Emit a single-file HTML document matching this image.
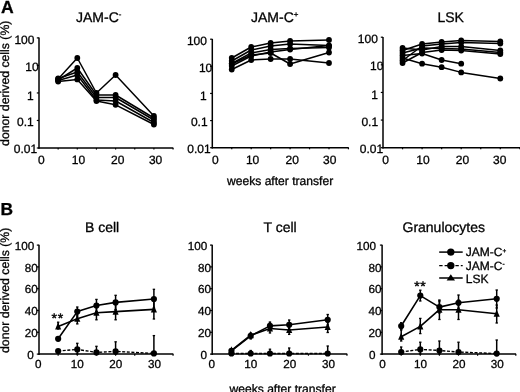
<!DOCTYPE html>
<html><head><meta charset="utf-8"><style>
html,body{margin:0;padding:0;background:#fff;}
body{width:520px;height:392px;overflow:hidden;}
svg{display:block;font-family:"Liberation Sans", sans-serif;-webkit-font-smoothing:antialiased;text-rendering:geometricPrecision;will-change:transform;}
text{fill:#000;stroke:#000;stroke-width:0.3px;}
</style></head><body>
<svg width="520" height="392" viewBox="0 0 520 392">
<line x1="39.00" y1="37.60" x2="39.00" y2="148.80" stroke="#000" stroke-width="1.5"/>
<line x1="38.40" y1="148.00" x2="173.35" y2="148.00" stroke="#000" stroke-width="1.5"/>
<line x1="36.80" y1="37.90" x2="39.00" y2="37.90" stroke="#000" stroke-width="1.2"/>
<text x="34.46" y="43.50" font-size="12" text-anchor="end" font-weight="normal" >100</text>
<line x1="36.80" y1="65.42" x2="39.00" y2="65.42" stroke="#000" stroke-width="1.2"/>
<text x="38.67" y="70.83" font-size="12" text-anchor="end" font-weight="normal" >10</text>
<line x1="36.80" y1="92.95" x2="39.00" y2="92.95" stroke="#000" stroke-width="1.2"/>
<text x="33.78" y="99.95" font-size="12" text-anchor="end" font-weight="normal" >1</text>
<line x1="36.80" y1="120.47" x2="39.00" y2="120.47" stroke="#000" stroke-width="1.2"/>
<text x="33.68" y="126.38" font-size="12" text-anchor="end" font-weight="normal" >0.1</text>
<line x1="36.80" y1="148.00" x2="39.00" y2="148.00" stroke="#000" stroke-width="1.2"/>
<text x="37.08" y="153.40" font-size="12" text-anchor="end" font-weight="normal" >0.01</text>
<line x1="58.15" y1="148.00" x2="58.15" y2="149.60" stroke="#000" stroke-width="1.2"/>
<line x1="77.30" y1="148.00" x2="77.30" y2="149.60" stroke="#000" stroke-width="1.2"/>
<line x1="96.45" y1="148.00" x2="96.45" y2="149.60" stroke="#000" stroke-width="1.2"/>
<line x1="115.60" y1="148.00" x2="115.60" y2="149.60" stroke="#000" stroke-width="1.2"/>
<line x1="134.75" y1="148.00" x2="134.75" y2="149.60" stroke="#000" stroke-width="1.2"/>
<line x1="153.90" y1="148.00" x2="153.90" y2="149.60" stroke="#000" stroke-width="1.2"/>
<line x1="173.05" y1="148.00" x2="173.05" y2="149.60" stroke="#000" stroke-width="1.2"/>
<text x="41.25" y="163.50" font-size="12" text-anchor="middle" font-weight="normal" >0</text>
<text x="78.45" y="163.50" font-size="12" text-anchor="middle" font-weight="normal" >10</text>
<text x="117.75" y="163.50" font-size="12" text-anchor="middle" font-weight="normal" >20</text>
<text x="155.60" y="163.50" font-size="12" text-anchor="middle" font-weight="normal" >30</text>
<text x="76.00" y="22.20" font-size="14" text-anchor="start" font-weight="normal" >JAM-C<tspan font-size="8" dy="-5.5">-</tspan></text>
<polyline points="58.15,79.00 77.30,58.00 96.45,93.00 115.60,75.00 153.90,116.00" fill="none" stroke="#000" stroke-width="1.5" stroke-linejoin="round"/>
<polyline points="58.15,80.00 77.30,68.00 96.45,95.00 115.60,95.00 153.90,118.00" fill="none" stroke="#000" stroke-width="1.5" stroke-linejoin="round"/>
<polyline points="58.15,78.50 77.30,72.00 96.45,97.50 115.60,97.50 153.90,120.00" fill="none" stroke="#000" stroke-width="1.5" stroke-linejoin="round"/>
<polyline points="58.15,80.50 77.30,75.00 96.45,100.00 115.60,101.00 153.90,122.50" fill="none" stroke="#000" stroke-width="1.5" stroke-linejoin="round"/>
<polyline points="58.15,81.50 77.30,79.40 96.45,101.00 115.60,104.80 153.90,124.50" fill="none" stroke="#000" stroke-width="1.5" stroke-linejoin="round"/>
<circle cx="58.15" cy="79.00" r="2.9" fill="#000"/>
<circle cx="77.30" cy="58.00" r="2.9" fill="#000"/>
<circle cx="96.45" cy="93.00" r="2.9" fill="#000"/>
<circle cx="115.60" cy="75.00" r="2.9" fill="#000"/>
<circle cx="153.90" cy="116.00" r="2.9" fill="#000"/>
<circle cx="58.15" cy="80.00" r="2.9" fill="#000"/>
<circle cx="77.30" cy="68.00" r="2.9" fill="#000"/>
<circle cx="96.45" cy="95.00" r="2.9" fill="#000"/>
<circle cx="115.60" cy="95.00" r="2.9" fill="#000"/>
<circle cx="153.90" cy="118.00" r="2.9" fill="#000"/>
<circle cx="58.15" cy="78.50" r="2.9" fill="#000"/>
<circle cx="77.30" cy="72.00" r="2.9" fill="#000"/>
<circle cx="96.45" cy="97.50" r="2.9" fill="#000"/>
<circle cx="115.60" cy="97.50" r="2.9" fill="#000"/>
<circle cx="153.90" cy="120.00" r="2.9" fill="#000"/>
<circle cx="58.15" cy="80.50" r="2.9" fill="#000"/>
<circle cx="77.30" cy="75.00" r="2.9" fill="#000"/>
<circle cx="96.45" cy="100.00" r="2.9" fill="#000"/>
<circle cx="115.60" cy="101.00" r="2.9" fill="#000"/>
<circle cx="153.90" cy="122.50" r="2.9" fill="#000"/>
<circle cx="58.15" cy="81.50" r="2.9" fill="#000"/>
<circle cx="77.30" cy="79.40" r="2.9" fill="#000"/>
<circle cx="96.45" cy="101.00" r="2.9" fill="#000"/>
<circle cx="115.60" cy="104.80" r="2.9" fill="#000"/>
<circle cx="153.90" cy="124.50" r="2.9" fill="#000"/>
<line x1="212.30" y1="38.90" x2="212.30" y2="148.50" stroke="#000" stroke-width="1.5"/>
<line x1="211.70" y1="147.70" x2="348.75" y2="147.70" stroke="#000" stroke-width="1.5"/>
<line x1="210.10" y1="39.20" x2="212.30" y2="39.20" stroke="#000" stroke-width="1.2"/>
<text x="206.96" y="44.80" font-size="12" text-anchor="end" font-weight="normal" >100</text>
<line x1="210.10" y1="66.33" x2="212.30" y2="66.33" stroke="#000" stroke-width="1.2"/>
<text x="212.27" y="71.73" font-size="12" text-anchor="end" font-weight="normal" >10</text>
<line x1="210.10" y1="93.45" x2="212.30" y2="93.45" stroke="#000" stroke-width="1.2"/>
<text x="206.58" y="100.45" font-size="12" text-anchor="end" font-weight="normal" >1</text>
<line x1="210.10" y1="120.57" x2="212.30" y2="120.57" stroke="#000" stroke-width="1.2"/>
<text x="207.58" y="126.47" font-size="12" text-anchor="end" font-weight="normal" >0.1</text>
<line x1="210.10" y1="147.70" x2="212.30" y2="147.70" stroke="#000" stroke-width="1.2"/>
<text x="210.58" y="153.10" font-size="12" text-anchor="end" font-weight="normal" >0.01</text>
<line x1="231.75" y1="147.70" x2="231.75" y2="149.30" stroke="#000" stroke-width="1.2"/>
<line x1="251.20" y1="147.70" x2="251.20" y2="149.30" stroke="#000" stroke-width="1.2"/>
<line x1="270.65" y1="147.70" x2="270.65" y2="149.30" stroke="#000" stroke-width="1.2"/>
<line x1="290.10" y1="147.70" x2="290.10" y2="149.30" stroke="#000" stroke-width="1.2"/>
<line x1="309.55" y1="147.70" x2="309.55" y2="149.30" stroke="#000" stroke-width="1.2"/>
<line x1="329.00" y1="147.70" x2="329.00" y2="149.30" stroke="#000" stroke-width="1.2"/>
<line x1="348.45" y1="147.70" x2="348.45" y2="149.30" stroke="#000" stroke-width="1.2"/>
<text x="215.25" y="163.50" font-size="12" text-anchor="middle" font-weight="normal" >0</text>
<text x="252.60" y="163.50" font-size="12" text-anchor="middle" font-weight="normal" >10</text>
<text x="292.20" y="163.50" font-size="12" text-anchor="middle" font-weight="normal" >20</text>
<text x="329.80" y="163.50" font-size="12" text-anchor="middle" font-weight="normal" >30</text>
<text x="251.00" y="22.20" font-size="14" text-anchor="start" font-weight="normal" >JAM-C<tspan font-size="8" dy="-5.5">+</tspan></text>
<polyline points="231.75,58.00 251.20,47.00 270.65,43.00 290.10,41.00 329.00,40.00" fill="none" stroke="#000" stroke-width="1.5" stroke-linejoin="round"/>
<polyline points="231.75,61.00 251.20,50.00 270.65,46.00 290.10,44.00 329.00,45.60" fill="none" stroke="#000" stroke-width="1.5" stroke-linejoin="round"/>
<polyline points="231.75,63.50 251.20,53.00 270.65,49.50 290.10,48.50 329.00,47.50" fill="none" stroke="#000" stroke-width="1.5" stroke-linejoin="round"/>
<polyline points="231.75,66.00 251.20,56.00 270.65,52.00 290.10,49.50 329.00,45.60" fill="none" stroke="#000" stroke-width="1.5" stroke-linejoin="round"/>
<polyline points="231.75,64.00 251.20,55.00 270.65,53.00 290.10,64.00 329.00,52.50" fill="none" stroke="#000" stroke-width="1.5" stroke-linejoin="round"/>
<polyline points="231.75,69.50 251.20,60.00 270.65,59.00 290.10,59.00 329.00,63.00" fill="none" stroke="#000" stroke-width="1.5" stroke-linejoin="round"/>
<circle cx="231.75" cy="58.00" r="2.9" fill="#000"/>
<circle cx="251.20" cy="47.00" r="2.9" fill="#000"/>
<circle cx="270.65" cy="43.00" r="2.9" fill="#000"/>
<circle cx="290.10" cy="41.00" r="2.9" fill="#000"/>
<circle cx="329.00" cy="40.00" r="2.9" fill="#000"/>
<circle cx="231.75" cy="61.00" r="2.9" fill="#000"/>
<circle cx="251.20" cy="50.00" r="2.9" fill="#000"/>
<circle cx="270.65" cy="46.00" r="2.9" fill="#000"/>
<circle cx="290.10" cy="44.00" r="2.9" fill="#000"/>
<circle cx="329.00" cy="45.60" r="2.9" fill="#000"/>
<circle cx="231.75" cy="63.50" r="2.9" fill="#000"/>
<circle cx="251.20" cy="53.00" r="2.9" fill="#000"/>
<circle cx="270.65" cy="49.50" r="2.9" fill="#000"/>
<circle cx="290.10" cy="48.50" r="2.9" fill="#000"/>
<circle cx="329.00" cy="47.50" r="2.9" fill="#000"/>
<circle cx="231.75" cy="66.00" r="2.9" fill="#000"/>
<circle cx="251.20" cy="56.00" r="2.9" fill="#000"/>
<circle cx="270.65" cy="52.00" r="2.9" fill="#000"/>
<circle cx="290.10" cy="49.50" r="2.9" fill="#000"/>
<circle cx="329.00" cy="45.60" r="2.9" fill="#000"/>
<circle cx="231.75" cy="64.00" r="2.9" fill="#000"/>
<circle cx="251.20" cy="55.00" r="2.9" fill="#000"/>
<circle cx="270.65" cy="53.00" r="2.9" fill="#000"/>
<circle cx="290.10" cy="64.00" r="2.9" fill="#000"/>
<circle cx="329.00" cy="52.50" r="2.9" fill="#000"/>
<circle cx="231.75" cy="69.50" r="2.9" fill="#000"/>
<circle cx="251.20" cy="60.00" r="2.9" fill="#000"/>
<circle cx="270.65" cy="59.00" r="2.9" fill="#000"/>
<circle cx="290.10" cy="59.00" r="2.9" fill="#000"/>
<circle cx="329.00" cy="63.00" r="2.9" fill="#000"/>
<line x1="383.00" y1="36.90" x2="383.00" y2="148.50" stroke="#000" stroke-width="1.5"/>
<line x1="382.40" y1="147.70" x2="520.15" y2="147.70" stroke="#000" stroke-width="1.5"/>
<line x1="380.80" y1="37.20" x2="383.00" y2="37.20" stroke="#000" stroke-width="1.2"/>
<text x="377.86" y="42.80" font-size="12" text-anchor="end" font-weight="normal" >100</text>
<line x1="380.80" y1="64.83" x2="383.00" y2="64.83" stroke="#000" stroke-width="1.2"/>
<text x="383.47" y="70.23" font-size="12" text-anchor="end" font-weight="normal" >10</text>
<line x1="380.80" y1="92.45" x2="383.00" y2="92.45" stroke="#000" stroke-width="1.2"/>
<text x="377.88" y="99.45" font-size="12" text-anchor="end" font-weight="normal" >1</text>
<line x1="380.80" y1="120.07" x2="383.00" y2="120.07" stroke="#000" stroke-width="1.2"/>
<text x="378.08" y="125.97" font-size="12" text-anchor="end" font-weight="normal" >0.1</text>
<line x1="380.80" y1="147.70" x2="383.00" y2="147.70" stroke="#000" stroke-width="1.2"/>
<text x="383.08" y="153.10" font-size="12" text-anchor="end" font-weight="normal" >0.01</text>
<line x1="402.55" y1="147.70" x2="402.55" y2="149.30" stroke="#000" stroke-width="1.2"/>
<line x1="422.10" y1="147.70" x2="422.10" y2="149.30" stroke="#000" stroke-width="1.2"/>
<line x1="441.65" y1="147.70" x2="441.65" y2="149.30" stroke="#000" stroke-width="1.2"/>
<line x1="461.20" y1="147.70" x2="461.20" y2="149.30" stroke="#000" stroke-width="1.2"/>
<line x1="480.75" y1="147.70" x2="480.75" y2="149.30" stroke="#000" stroke-width="1.2"/>
<line x1="500.30" y1="147.70" x2="500.30" y2="149.30" stroke="#000" stroke-width="1.2"/>
<line x1="519.85" y1="147.70" x2="519.85" y2="149.30" stroke="#000" stroke-width="1.2"/>
<text x="385.60" y="163.50" font-size="12" text-anchor="middle" font-weight="normal" >0</text>
<text x="423.00" y="163.50" font-size="12" text-anchor="middle" font-weight="normal" >10</text>
<text x="462.50" y="163.50" font-size="12" text-anchor="middle" font-weight="normal" >20</text>
<text x="499.70" y="163.50" font-size="12" text-anchor="middle" font-weight="normal" >30</text>
<text x="437.50" y="22.20" font-size="14" text-anchor="start" font-weight="normal" >LSK</text>
<polyline points="402.55,50.50 422.10,44.00 441.65,42.00 461.20,40.50 500.30,41.50" fill="none" stroke="#000" stroke-width="1.5" stroke-linejoin="round"/>
<polyline points="402.55,60.50 422.10,46.00 441.65,44.00 461.20,42.50 500.30,43.50" fill="none" stroke="#000" stroke-width="1.5" stroke-linejoin="round"/>
<polyline points="402.55,48.00 422.10,50.00 441.65,46.50 461.20,46.50 500.30,50.50" fill="none" stroke="#000" stroke-width="1.5" stroke-linejoin="round"/>
<polyline points="402.55,53.00 422.10,48.00 441.65,48.50 461.20,49.00 500.30,52.50" fill="none" stroke="#000" stroke-width="1.5" stroke-linejoin="round"/>
<polyline points="402.55,63.00 422.10,52.50 441.65,50.00 461.20,50.50 500.30,54.00" fill="none" stroke="#000" stroke-width="1.5" stroke-linejoin="round"/>
<polyline points="402.55,55.50 422.10,53.50 441.65,60.00 461.20,63.70" fill="none" stroke="#000" stroke-width="1.5" stroke-linejoin="round"/>
<polyline points="402.55,58.00 422.10,63.70 441.65,67.20 461.20,72.40 500.30,78.50" fill="none" stroke="#000" stroke-width="1.5" stroke-linejoin="round"/>
<circle cx="402.55" cy="50.50" r="2.9" fill="#000"/>
<circle cx="422.10" cy="44.00" r="2.9" fill="#000"/>
<circle cx="441.65" cy="42.00" r="2.9" fill="#000"/>
<circle cx="461.20" cy="40.50" r="2.9" fill="#000"/>
<circle cx="500.30" cy="41.50" r="2.9" fill="#000"/>
<circle cx="402.55" cy="60.50" r="2.9" fill="#000"/>
<circle cx="422.10" cy="46.00" r="2.9" fill="#000"/>
<circle cx="441.65" cy="44.00" r="2.9" fill="#000"/>
<circle cx="461.20" cy="42.50" r="2.9" fill="#000"/>
<circle cx="500.30" cy="43.50" r="2.9" fill="#000"/>
<circle cx="402.55" cy="48.00" r="2.9" fill="#000"/>
<circle cx="422.10" cy="50.00" r="2.9" fill="#000"/>
<circle cx="441.65" cy="46.50" r="2.9" fill="#000"/>
<circle cx="461.20" cy="46.50" r="2.9" fill="#000"/>
<circle cx="500.30" cy="50.50" r="2.9" fill="#000"/>
<circle cx="402.55" cy="53.00" r="2.9" fill="#000"/>
<circle cx="422.10" cy="48.00" r="2.9" fill="#000"/>
<circle cx="441.65" cy="48.50" r="2.9" fill="#000"/>
<circle cx="461.20" cy="49.00" r="2.9" fill="#000"/>
<circle cx="500.30" cy="52.50" r="2.9" fill="#000"/>
<circle cx="402.55" cy="63.00" r="2.9" fill="#000"/>
<circle cx="422.10" cy="52.50" r="2.9" fill="#000"/>
<circle cx="441.65" cy="50.00" r="2.9" fill="#000"/>
<circle cx="461.20" cy="50.50" r="2.9" fill="#000"/>
<circle cx="500.30" cy="54.00" r="2.9" fill="#000"/>
<circle cx="402.55" cy="55.50" r="2.9" fill="#000"/>
<circle cx="422.10" cy="53.50" r="2.9" fill="#000"/>
<circle cx="441.65" cy="60.00" r="2.9" fill="#000"/>
<circle cx="461.20" cy="63.70" r="2.9" fill="#000"/>
<circle cx="402.55" cy="58.00" r="2.9" fill="#000"/>
<circle cx="422.10" cy="63.70" r="2.9" fill="#000"/>
<circle cx="441.65" cy="67.20" r="2.9" fill="#000"/>
<circle cx="461.20" cy="72.40" r="2.9" fill="#000"/>
<circle cx="500.30" cy="78.50" r="2.9" fill="#000"/>
<text x="0.90" y="12.50" font-size="17.6" text-anchor="start" font-weight="bold" >A</text>
<text x="227.00" y="185.00" font-size="12.1" text-anchor="start" font-weight="normal" >weeks after transfer</text>
<text transform="translate(8.8,145.9) rotate(-90)" font-size="12.25">donor derived cells (%)</text>
<line x1="39.00" y1="244.80" x2="39.00" y2="354.90" stroke="#000" stroke-width="1.5"/>
<line x1="38.40" y1="354.10" x2="173.35" y2="354.10" stroke="#000" stroke-width="1.5"/>
<line x1="36.80" y1="354.10" x2="39.00" y2="354.10" stroke="#000" stroke-width="1.2"/>
<text x="33.85" y="358.80" font-size="11.7" text-anchor="end" font-weight="normal" >0</text>
<line x1="36.80" y1="332.30" x2="39.00" y2="332.30" stroke="#000" stroke-width="1.2"/>
<text x="37.66" y="337.00" font-size="11.7" text-anchor="end" font-weight="normal" >20</text>
<line x1="36.80" y1="310.50" x2="39.00" y2="310.50" stroke="#000" stroke-width="1.2"/>
<text x="37.66" y="315.20" font-size="11.7" text-anchor="end" font-weight="normal" >40</text>
<line x1="36.80" y1="288.70" x2="39.00" y2="288.70" stroke="#000" stroke-width="1.2"/>
<text x="37.66" y="293.40" font-size="11.7" text-anchor="end" font-weight="normal" >60</text>
<line x1="36.80" y1="266.90" x2="39.00" y2="266.90" stroke="#000" stroke-width="1.2"/>
<text x="37.66" y="271.60" font-size="11.7" text-anchor="end" font-weight="normal" >80</text>
<line x1="36.80" y1="245.10" x2="39.00" y2="245.10" stroke="#000" stroke-width="1.2"/>
<text x="34.15" y="249.80" font-size="11.7" text-anchor="end" font-weight="normal" >100</text>
<line x1="58.15" y1="354.10" x2="58.15" y2="355.70" stroke="#000" stroke-width="1.2"/>
<line x1="77.30" y1="354.10" x2="77.30" y2="355.70" stroke="#000" stroke-width="1.2"/>
<line x1="96.45" y1="354.10" x2="96.45" y2="355.70" stroke="#000" stroke-width="1.2"/>
<line x1="115.60" y1="354.10" x2="115.60" y2="355.70" stroke="#000" stroke-width="1.2"/>
<line x1="134.75" y1="354.10" x2="134.75" y2="355.70" stroke="#000" stroke-width="1.2"/>
<line x1="153.90" y1="354.10" x2="153.90" y2="355.70" stroke="#000" stroke-width="1.2"/>
<line x1="173.05" y1="354.10" x2="173.05" y2="355.70" stroke="#000" stroke-width="1.2"/>
<text x="38.35" y="368.30" font-size="11.7" text-anchor="middle" font-weight="normal" >0</text>
<text x="77.30" y="368.30" font-size="11.7" text-anchor="middle" font-weight="normal" >10</text>
<text x="115.80" y="368.30" font-size="11.7" text-anchor="middle" font-weight="normal" >20</text>
<text x="154.45" y="368.30" font-size="11.7" text-anchor="middle" font-weight="normal" >30</text>
<text x="85.00" y="231.60" font-size="14" text-anchor="start" font-weight="normal" >B cell</text>
<line x1="77.30" y1="307.00" x2="77.30" y2="316.00" stroke="#000" stroke-width="1.5"/>
<line x1="76.10" y1="307.00" x2="78.50" y2="307.00" stroke="#000" stroke-width="1.3"/>
<line x1="76.10" y1="316.00" x2="78.50" y2="316.00" stroke="#000" stroke-width="1.3"/>
<line x1="96.45" y1="299.40" x2="96.45" y2="311.60" stroke="#000" stroke-width="1.5"/>
<line x1="95.25" y1="299.40" x2="97.65" y2="299.40" stroke="#000" stroke-width="1.3"/>
<line x1="95.25" y1="311.60" x2="97.65" y2="311.60" stroke="#000" stroke-width="1.3"/>
<line x1="115.60" y1="295.30" x2="115.60" y2="309.50" stroke="#000" stroke-width="1.5"/>
<line x1="114.40" y1="295.30" x2="116.80" y2="295.30" stroke="#000" stroke-width="1.3"/>
<line x1="114.40" y1="309.50" x2="116.80" y2="309.50" stroke="#000" stroke-width="1.3"/>
<line x1="153.90" y1="289.30" x2="153.90" y2="307.80" stroke="#000" stroke-width="1.5"/>
<line x1="152.70" y1="289.30" x2="155.10" y2="289.30" stroke="#000" stroke-width="1.3"/>
<line x1="152.70" y1="307.80" x2="155.10" y2="307.80" stroke="#000" stroke-width="1.3"/>
<line x1="77.30" y1="343.30" x2="77.30" y2="354.00" stroke="#000" stroke-width="1.5"/>
<line x1="76.10" y1="343.30" x2="78.50" y2="343.30" stroke="#000" stroke-width="1.3"/>
<line x1="76.10" y1="354.00" x2="78.50" y2="354.00" stroke="#000" stroke-width="1.3"/>
<line x1="96.45" y1="346.30" x2="96.45" y2="354.00" stroke="#000" stroke-width="1.5"/>
<line x1="95.25" y1="346.30" x2="97.65" y2="346.30" stroke="#000" stroke-width="1.3"/>
<line x1="95.25" y1="354.00" x2="97.65" y2="354.00" stroke="#000" stroke-width="1.3"/>
<line x1="115.60" y1="341.80" x2="115.60" y2="354.00" stroke="#000" stroke-width="1.5"/>
<line x1="114.40" y1="341.80" x2="116.80" y2="341.80" stroke="#000" stroke-width="1.3"/>
<line x1="114.40" y1="354.00" x2="116.80" y2="354.00" stroke="#000" stroke-width="1.3"/>
<line x1="153.90" y1="335.60" x2="153.90" y2="354.00" stroke="#000" stroke-width="1.5"/>
<line x1="152.70" y1="335.60" x2="155.10" y2="335.60" stroke="#000" stroke-width="1.3"/>
<line x1="152.70" y1="354.00" x2="155.10" y2="354.00" stroke="#000" stroke-width="1.3"/>
<line x1="58.15" y1="322.20" x2="58.15" y2="329.00" stroke="#000" stroke-width="1.5"/>
<line x1="56.95" y1="322.20" x2="59.35" y2="322.20" stroke="#000" stroke-width="1.3"/>
<line x1="56.95" y1="329.00" x2="59.35" y2="329.00" stroke="#000" stroke-width="1.3"/>
<line x1="77.30" y1="314.00" x2="77.30" y2="323.90" stroke="#000" stroke-width="1.5"/>
<line x1="76.10" y1="314.00" x2="78.50" y2="314.00" stroke="#000" stroke-width="1.3"/>
<line x1="76.10" y1="323.90" x2="78.50" y2="323.90" stroke="#000" stroke-width="1.3"/>
<line x1="96.45" y1="306.00" x2="96.45" y2="319.80" stroke="#000" stroke-width="1.5"/>
<line x1="95.25" y1="306.00" x2="97.65" y2="306.00" stroke="#000" stroke-width="1.3"/>
<line x1="95.25" y1="319.80" x2="97.65" y2="319.80" stroke="#000" stroke-width="1.3"/>
<line x1="115.60" y1="304.00" x2="115.60" y2="319.80" stroke="#000" stroke-width="1.5"/>
<line x1="114.40" y1="304.00" x2="116.80" y2="304.00" stroke="#000" stroke-width="1.3"/>
<line x1="114.40" y1="319.80" x2="116.80" y2="319.80" stroke="#000" stroke-width="1.3"/>
<line x1="153.90" y1="300.00" x2="153.90" y2="319.00" stroke="#000" stroke-width="1.5"/>
<line x1="152.70" y1="300.00" x2="155.10" y2="300.00" stroke="#000" stroke-width="1.3"/>
<line x1="152.70" y1="319.00" x2="155.10" y2="319.00" stroke="#000" stroke-width="1.3"/>
<polyline points="58.15,338.80 77.30,311.60 96.45,305.50 115.60,302.40 153.90,299.00" fill="none" stroke="#000" stroke-width="1.6" stroke-linejoin="round"/>
<polyline points="58.15,326.50 77.30,318.80 96.45,312.70 115.60,311.60 153.90,309.40" fill="none" stroke="#000" stroke-width="1.6" stroke-linejoin="round"/>
<polyline points="58.15,351.00 77.30,349.40 96.45,352.40 115.60,351.40 153.90,353.40" fill="none" stroke="#000" stroke-width="1.4" stroke-linejoin="round" stroke-dasharray="3,1.6"/>
<circle cx="58.15" cy="338.80" r="3.1" fill="#000"/>
<circle cx="77.30" cy="311.60" r="3.1" fill="#000"/>
<circle cx="96.45" cy="305.50" r="3.1" fill="#000"/>
<circle cx="115.60" cy="302.40" r="3.1" fill="#000"/>
<circle cx="153.90" cy="299.00" r="3.1" fill="#000"/>
<circle cx="58.15" cy="351.00" r="3.1" fill="#000"/>
<circle cx="77.30" cy="349.40" r="3.1" fill="#000"/>
<circle cx="96.45" cy="352.40" r="3.1" fill="#000"/>
<circle cx="115.60" cy="351.40" r="3.1" fill="#000"/>
<circle cx="153.90" cy="353.40" r="3.1" fill="#000"/>
<path d="M58.15 322.36 L61.21 329.56 L55.09 329.56Z" fill="#000"/>
<path d="M77.30 314.66 L80.36 321.86 L74.24 321.86Z" fill="#000"/>
<path d="M96.45 308.56 L99.51 315.76 L93.39 315.76Z" fill="#000"/>
<path d="M115.60 307.46 L118.66 314.66 L112.54 314.66Z" fill="#000"/>
<path d="M153.90 305.26 L156.96 312.46 L150.84 312.46Z" fill="#000"/>
<text x="51.6" y="322.6" font-size="14" letter-spacing="0.7" style="stroke-width:0.45px">**</text>
<line x1="212.20" y1="244.80" x2="212.20" y2="354.90" stroke="#000" stroke-width="1.5"/>
<line x1="211.60" y1="354.10" x2="347.25" y2="354.10" stroke="#000" stroke-width="1.5"/>
<line x1="210.00" y1="354.10" x2="212.20" y2="354.10" stroke="#000" stroke-width="1.2"/>
<text x="207.05" y="358.80" font-size="11.7" text-anchor="end" font-weight="normal" >0</text>
<line x1="210.00" y1="332.30" x2="212.20" y2="332.30" stroke="#000" stroke-width="1.2"/>
<text x="211.06" y="337.00" font-size="11.7" text-anchor="end" font-weight="normal" >20</text>
<line x1="210.00" y1="310.50" x2="212.20" y2="310.50" stroke="#000" stroke-width="1.2"/>
<text x="211.06" y="315.20" font-size="11.7" text-anchor="end" font-weight="normal" >40</text>
<line x1="210.00" y1="288.70" x2="212.20" y2="288.70" stroke="#000" stroke-width="1.2"/>
<text x="211.06" y="293.40" font-size="11.7" text-anchor="end" font-weight="normal" >60</text>
<line x1="210.00" y1="266.90" x2="212.20" y2="266.90" stroke="#000" stroke-width="1.2"/>
<text x="211.06" y="271.60" font-size="11.7" text-anchor="end" font-weight="normal" >80</text>
<line x1="210.00" y1="245.10" x2="212.20" y2="245.10" stroke="#000" stroke-width="1.2"/>
<text x="207.25" y="249.80" font-size="11.7" text-anchor="end" font-weight="normal" >100</text>
<line x1="231.45" y1="354.10" x2="231.45" y2="355.70" stroke="#000" stroke-width="1.2"/>
<line x1="250.70" y1="354.10" x2="250.70" y2="355.70" stroke="#000" stroke-width="1.2"/>
<line x1="269.95" y1="354.10" x2="269.95" y2="355.70" stroke="#000" stroke-width="1.2"/>
<line x1="289.20" y1="354.10" x2="289.20" y2="355.70" stroke="#000" stroke-width="1.2"/>
<line x1="308.45" y1="354.10" x2="308.45" y2="355.70" stroke="#000" stroke-width="1.2"/>
<line x1="327.70" y1="354.10" x2="327.70" y2="355.70" stroke="#000" stroke-width="1.2"/>
<line x1="346.95" y1="354.10" x2="346.95" y2="355.70" stroke="#000" stroke-width="1.2"/>
<text x="211.80" y="368.30" font-size="11.7" text-anchor="middle" font-weight="normal" >0</text>
<text x="250.70" y="368.30" font-size="11.7" text-anchor="middle" font-weight="normal" >10</text>
<text x="289.80" y="368.30" font-size="11.7" text-anchor="middle" font-weight="normal" >20</text>
<text x="328.60" y="368.30" font-size="11.7" text-anchor="middle" font-weight="normal" >30</text>
<text x="263.50" y="231.60" font-size="14" text-anchor="start" font-weight="normal" >T cell</text>
<line x1="250.70" y1="333.00" x2="250.70" y2="339.00" stroke="#000" stroke-width="1.5"/>
<line x1="249.50" y1="333.00" x2="251.90" y2="333.00" stroke="#000" stroke-width="1.3"/>
<line x1="249.50" y1="339.00" x2="251.90" y2="339.00" stroke="#000" stroke-width="1.3"/>
<line x1="269.95" y1="322.00" x2="269.95" y2="330.00" stroke="#000" stroke-width="1.5"/>
<line x1="268.75" y1="322.00" x2="271.15" y2="322.00" stroke="#000" stroke-width="1.3"/>
<line x1="268.75" y1="330.00" x2="271.15" y2="330.00" stroke="#000" stroke-width="1.3"/>
<line x1="289.20" y1="320.00" x2="289.20" y2="330.00" stroke="#000" stroke-width="1.5"/>
<line x1="288.00" y1="320.00" x2="290.40" y2="320.00" stroke="#000" stroke-width="1.3"/>
<line x1="288.00" y1="330.00" x2="290.40" y2="330.00" stroke="#000" stroke-width="1.3"/>
<line x1="327.70" y1="314.50" x2="327.70" y2="325.00" stroke="#000" stroke-width="1.5"/>
<line x1="326.50" y1="314.50" x2="328.90" y2="314.50" stroke="#000" stroke-width="1.3"/>
<line x1="326.50" y1="325.00" x2="328.90" y2="325.00" stroke="#000" stroke-width="1.3"/>
<line x1="250.70" y1="350.50" x2="250.70" y2="354.00" stroke="#000" stroke-width="1.5"/>
<line x1="249.50" y1="350.50" x2="251.90" y2="350.50" stroke="#000" stroke-width="1.3"/>
<line x1="249.50" y1="354.00" x2="251.90" y2="354.00" stroke="#000" stroke-width="1.3"/>
<line x1="269.95" y1="349.20" x2="269.95" y2="354.00" stroke="#000" stroke-width="1.5"/>
<line x1="268.75" y1="349.20" x2="271.15" y2="349.20" stroke="#000" stroke-width="1.3"/>
<line x1="268.75" y1="354.00" x2="271.15" y2="354.00" stroke="#000" stroke-width="1.3"/>
<line x1="289.20" y1="348.00" x2="289.20" y2="354.00" stroke="#000" stroke-width="1.5"/>
<line x1="288.00" y1="348.00" x2="290.40" y2="348.00" stroke="#000" stroke-width="1.3"/>
<line x1="288.00" y1="354.00" x2="290.40" y2="354.00" stroke="#000" stroke-width="1.3"/>
<line x1="327.70" y1="346.00" x2="327.70" y2="354.00" stroke="#000" stroke-width="1.5"/>
<line x1="326.50" y1="346.00" x2="328.90" y2="346.00" stroke="#000" stroke-width="1.3"/>
<line x1="326.50" y1="354.00" x2="328.90" y2="354.00" stroke="#000" stroke-width="1.3"/>
<line x1="269.95" y1="323.00" x2="269.95" y2="333.00" stroke="#000" stroke-width="1.5"/>
<line x1="268.75" y1="323.00" x2="271.15" y2="323.00" stroke="#000" stroke-width="1.3"/>
<line x1="268.75" y1="333.00" x2="271.15" y2="333.00" stroke="#000" stroke-width="1.3"/>
<line x1="289.20" y1="325.00" x2="289.20" y2="334.40" stroke="#000" stroke-width="1.5"/>
<line x1="288.00" y1="325.00" x2="290.40" y2="325.00" stroke="#000" stroke-width="1.3"/>
<line x1="288.00" y1="334.40" x2="290.40" y2="334.40" stroke="#000" stroke-width="1.3"/>
<line x1="327.70" y1="322.00" x2="327.70" y2="332.50" stroke="#000" stroke-width="1.5"/>
<line x1="326.50" y1="322.00" x2="328.90" y2="322.00" stroke="#000" stroke-width="1.3"/>
<line x1="326.50" y1="332.50" x2="328.90" y2="332.50" stroke="#000" stroke-width="1.3"/>
<polyline points="231.45,350.80 250.70,335.80 269.95,325.90 289.20,324.80 327.70,319.80" fill="none" stroke="#000" stroke-width="1.6" stroke-linejoin="round"/>
<polyline points="231.45,350.30 250.70,335.20 269.95,328.50 289.20,330.00 327.70,327.00" fill="none" stroke="#000" stroke-width="1.6" stroke-linejoin="round"/>
<polyline points="231.45,353.50 250.70,353.50 269.95,353.50 289.20,353.50 327.70,353.50" fill="none" stroke="#000" stroke-width="1.4" stroke-linejoin="round" stroke-dasharray="3,1.6"/>
<circle cx="231.45" cy="350.80" r="3.1" fill="#000"/>
<circle cx="250.70" cy="335.80" r="3.1" fill="#000"/>
<circle cx="269.95" cy="325.90" r="3.1" fill="#000"/>
<circle cx="289.20" cy="324.80" r="3.1" fill="#000"/>
<circle cx="327.70" cy="319.80" r="3.1" fill="#000"/>
<circle cx="231.45" cy="353.50" r="3.1" fill="#000"/>
<circle cx="250.70" cy="353.50" r="3.1" fill="#000"/>
<circle cx="269.95" cy="353.50" r="3.1" fill="#000"/>
<circle cx="289.20" cy="353.50" r="3.1" fill="#000"/>
<circle cx="327.70" cy="353.50" r="3.1" fill="#000"/>
<path d="M231.45 346.16 L234.51 353.36 L228.39 353.36Z" fill="#000"/>
<path d="M250.70 331.06 L253.76 338.26 L247.64 338.26Z" fill="#000"/>
<path d="M269.95 324.36 L273.01 331.56 L266.89 331.56Z" fill="#000"/>
<path d="M289.20 325.86 L292.26 333.06 L286.14 333.06Z" fill="#000"/>
<path d="M327.70 322.86 L330.76 330.06 L324.64 330.06Z" fill="#000"/>
<line x1="382.10" y1="244.80" x2="382.10" y2="354.90" stroke="#000" stroke-width="1.5"/>
<line x1="381.50" y1="354.10" x2="516.10" y2="354.10" stroke="#000" stroke-width="1.5"/>
<line x1="379.90" y1="354.10" x2="382.10" y2="354.10" stroke="#000" stroke-width="1.2"/>
<text x="375.45" y="358.80" font-size="11.7" text-anchor="end" font-weight="normal" >0</text>
<line x1="379.90" y1="332.30" x2="382.10" y2="332.30" stroke="#000" stroke-width="1.2"/>
<text x="381.46" y="337.00" font-size="11.7" text-anchor="end" font-weight="normal" >20</text>
<line x1="379.90" y1="310.50" x2="382.10" y2="310.50" stroke="#000" stroke-width="1.2"/>
<text x="381.46" y="315.20" font-size="11.7" text-anchor="end" font-weight="normal" >40</text>
<line x1="379.90" y1="288.70" x2="382.10" y2="288.70" stroke="#000" stroke-width="1.2"/>
<text x="381.46" y="293.40" font-size="11.7" text-anchor="end" font-weight="normal" >60</text>
<line x1="379.90" y1="266.90" x2="382.10" y2="266.90" stroke="#000" stroke-width="1.2"/>
<text x="381.46" y="271.60" font-size="11.7" text-anchor="end" font-weight="normal" >80</text>
<line x1="379.90" y1="245.10" x2="382.10" y2="245.10" stroke="#000" stroke-width="1.2"/>
<text x="376.05" y="249.80" font-size="11.7" text-anchor="end" font-weight="normal" >100</text>
<line x1="401.20" y1="354.10" x2="401.20" y2="355.70" stroke="#000" stroke-width="1.2"/>
<line x1="420.30" y1="354.10" x2="420.30" y2="355.70" stroke="#000" stroke-width="1.2"/>
<line x1="439.40" y1="354.10" x2="439.40" y2="355.70" stroke="#000" stroke-width="1.2"/>
<line x1="458.50" y1="354.10" x2="458.50" y2="355.70" stroke="#000" stroke-width="1.2"/>
<line x1="477.60" y1="354.10" x2="477.60" y2="355.70" stroke="#000" stroke-width="1.2"/>
<line x1="496.70" y1="354.10" x2="496.70" y2="355.70" stroke="#000" stroke-width="1.2"/>
<line x1="515.80" y1="354.10" x2="515.80" y2="355.70" stroke="#000" stroke-width="1.2"/>
<text x="382.50" y="368.30" font-size="11.7" text-anchor="middle" font-weight="normal" >0</text>
<text x="420.50" y="368.30" font-size="11.7" text-anchor="middle" font-weight="normal" >10</text>
<text x="459.00" y="368.30" font-size="11.7" text-anchor="middle" font-weight="normal" >20</text>
<text x="497.30" y="368.30" font-size="11.7" text-anchor="middle" font-weight="normal" >30</text>
<text x="402.50" y="231.60" font-size="14" text-anchor="start" font-weight="normal" >Granulocytes</text>
<line x1="401.20" y1="322.70" x2="401.20" y2="329.20" stroke="#000" stroke-width="1.5"/>
<line x1="400.00" y1="322.70" x2="402.40" y2="322.70" stroke="#000" stroke-width="1.3"/>
<line x1="400.00" y1="329.20" x2="402.40" y2="329.20" stroke="#000" stroke-width="1.3"/>
<line x1="420.30" y1="290.20" x2="420.30" y2="301.00" stroke="#000" stroke-width="1.5"/>
<line x1="419.10" y1="290.20" x2="421.50" y2="290.20" stroke="#000" stroke-width="1.3"/>
<line x1="419.10" y1="301.00" x2="421.50" y2="301.00" stroke="#000" stroke-width="1.3"/>
<line x1="439.40" y1="301.00" x2="439.40" y2="313.00" stroke="#000" stroke-width="1.5"/>
<line x1="438.20" y1="301.00" x2="440.60" y2="301.00" stroke="#000" stroke-width="1.3"/>
<line x1="438.20" y1="313.00" x2="440.60" y2="313.00" stroke="#000" stroke-width="1.3"/>
<line x1="458.50" y1="295.00" x2="458.50" y2="311.00" stroke="#000" stroke-width="1.5"/>
<line x1="457.30" y1="295.00" x2="459.70" y2="295.00" stroke="#000" stroke-width="1.3"/>
<line x1="457.30" y1="311.00" x2="459.70" y2="311.00" stroke="#000" stroke-width="1.3"/>
<line x1="496.70" y1="290.00" x2="496.70" y2="308.00" stroke="#000" stroke-width="1.5"/>
<line x1="495.50" y1="290.00" x2="497.90" y2="290.00" stroke="#000" stroke-width="1.3"/>
<line x1="495.50" y1="308.00" x2="497.90" y2="308.00" stroke="#000" stroke-width="1.3"/>
<line x1="401.20" y1="347.00" x2="401.20" y2="354.00" stroke="#000" stroke-width="1.5"/>
<line x1="400.00" y1="347.00" x2="402.40" y2="347.00" stroke="#000" stroke-width="1.3"/>
<line x1="400.00" y1="354.00" x2="402.40" y2="354.00" stroke="#000" stroke-width="1.3"/>
<line x1="420.30" y1="342.20" x2="420.30" y2="354.00" stroke="#000" stroke-width="1.5"/>
<line x1="419.10" y1="342.20" x2="421.50" y2="342.20" stroke="#000" stroke-width="1.3"/>
<line x1="419.10" y1="354.00" x2="421.50" y2="354.00" stroke="#000" stroke-width="1.3"/>
<line x1="439.40" y1="341.00" x2="439.40" y2="354.00" stroke="#000" stroke-width="1.5"/>
<line x1="438.20" y1="341.00" x2="440.60" y2="341.00" stroke="#000" stroke-width="1.3"/>
<line x1="438.20" y1="354.00" x2="440.60" y2="354.00" stroke="#000" stroke-width="1.3"/>
<line x1="458.50" y1="342.20" x2="458.50" y2="354.00" stroke="#000" stroke-width="1.5"/>
<line x1="457.30" y1="342.20" x2="459.70" y2="342.20" stroke="#000" stroke-width="1.3"/>
<line x1="457.30" y1="354.00" x2="459.70" y2="354.00" stroke="#000" stroke-width="1.3"/>
<line x1="496.70" y1="340.00" x2="496.70" y2="354.00" stroke="#000" stroke-width="1.5"/>
<line x1="495.50" y1="340.00" x2="497.90" y2="340.00" stroke="#000" stroke-width="1.3"/>
<line x1="495.50" y1="354.00" x2="497.90" y2="354.00" stroke="#000" stroke-width="1.3"/>
<line x1="401.20" y1="330.00" x2="401.20" y2="341.00" stroke="#000" stroke-width="1.5"/>
<line x1="400.00" y1="330.00" x2="402.40" y2="330.00" stroke="#000" stroke-width="1.3"/>
<line x1="400.00" y1="341.00" x2="402.40" y2="341.00" stroke="#000" stroke-width="1.3"/>
<line x1="420.30" y1="318.40" x2="420.30" y2="333.60" stroke="#000" stroke-width="1.5"/>
<line x1="419.10" y1="318.40" x2="421.50" y2="318.40" stroke="#000" stroke-width="1.3"/>
<line x1="419.10" y1="333.60" x2="421.50" y2="333.60" stroke="#000" stroke-width="1.3"/>
<line x1="439.40" y1="300.00" x2="439.40" y2="319.50" stroke="#000" stroke-width="1.5"/>
<line x1="438.20" y1="300.00" x2="440.60" y2="300.00" stroke="#000" stroke-width="1.3"/>
<line x1="438.20" y1="319.50" x2="440.60" y2="319.50" stroke="#000" stroke-width="1.3"/>
<line x1="458.50" y1="300.00" x2="458.50" y2="319.50" stroke="#000" stroke-width="1.5"/>
<line x1="457.30" y1="300.00" x2="459.70" y2="300.00" stroke="#000" stroke-width="1.3"/>
<line x1="457.30" y1="319.50" x2="459.70" y2="319.50" stroke="#000" stroke-width="1.3"/>
<line x1="496.70" y1="305.00" x2="496.70" y2="323.00" stroke="#000" stroke-width="1.5"/>
<line x1="495.50" y1="305.00" x2="497.90" y2="305.00" stroke="#000" stroke-width="1.3"/>
<line x1="495.50" y1="323.00" x2="497.90" y2="323.00" stroke="#000" stroke-width="1.3"/>
<polyline points="401.20,326.00 420.30,295.60 439.40,307.10 458.50,302.80 496.70,298.80" fill="none" stroke="#000" stroke-width="1.6" stroke-linejoin="round"/>
<polyline points="401.20,336.80 420.30,326.40 439.40,309.70 458.50,309.70 496.70,313.80" fill="none" stroke="#000" stroke-width="1.6" stroke-linejoin="round"/>
<polyline points="401.20,352.00 420.30,349.40 439.40,350.50 458.50,352.00 496.70,353.60" fill="none" stroke="#000" stroke-width="1.4" stroke-linejoin="round" stroke-dasharray="3,1.6"/>
<circle cx="401.20" cy="326.00" r="3.1" fill="#000"/>
<circle cx="420.30" cy="295.60" r="3.1" fill="#000"/>
<circle cx="439.40" cy="307.10" r="3.1" fill="#000"/>
<circle cx="458.50" cy="302.80" r="3.1" fill="#000"/>
<circle cx="496.70" cy="298.80" r="3.1" fill="#000"/>
<circle cx="401.20" cy="352.00" r="3.1" fill="#000"/>
<circle cx="420.30" cy="349.40" r="3.1" fill="#000"/>
<circle cx="439.40" cy="350.50" r="3.1" fill="#000"/>
<circle cx="458.50" cy="352.00" r="3.1" fill="#000"/>
<circle cx="496.70" cy="353.60" r="3.1" fill="#000"/>
<path d="M401.20 332.66 L404.26 339.86 L398.14 339.86Z" fill="#000"/>
<path d="M420.30 322.26 L423.36 329.46 L417.24 329.46Z" fill="#000"/>
<path d="M439.40 305.56 L442.46 312.76 L436.34 312.76Z" fill="#000"/>
<path d="M458.50 305.56 L461.56 312.76 L455.44 312.76Z" fill="#000"/>
<path d="M496.70 309.66 L499.76 316.86 L493.64 316.86Z" fill="#000"/>
<text x="414.2" y="290.6" font-size="14" letter-spacing="0.7" style="stroke-width:0.45px">**</text>
<text x="0.50" y="215.20" font-size="17.4" text-anchor="start" font-weight="bold" >B</text>
<text x="229.50" y="392.50" font-size="12.1" text-anchor="start" font-weight="normal" >weeks after transfer</text>
<text transform="translate(8.8,353.0) rotate(-90)" font-size="12.25">donor derived cells (%)</text>
<line x1="439.20" y1="252.10" x2="462.70" y2="252.10" stroke="#000" stroke-width="1.5"/>
<circle cx="450.80" cy="252.10" r="3.7" fill="#000"/>
<line x1="439.20" y1="265.60" x2="462.70" y2="265.60" stroke="#000" stroke-width="1.4" stroke-dasharray="3.4,2"/>
<circle cx="450.80" cy="265.60" r="3.7" fill="#000"/>
<line x1="439.20" y1="278.00" x2="462.70" y2="278.00" stroke="#000" stroke-width="1.5"/>
<path d="M450.8 274.2 L455.0 280.4 L446.6 280.4Z" fill="#000"/>
<text x="465.80" y="256.20" font-size="12" text-anchor="start" font-weight="normal" >JAM-C<tspan font-size="6.5" dy="-3.6">+</tspan></text>
<text x="465.80" y="269.70" font-size="12" text-anchor="start" font-weight="normal" >JAM-C<tspan font-size="6.5" dy="-3.6">-</tspan></text>
<text x="465.80" y="283.00" font-size="12" text-anchor="start" font-weight="normal" >LSK</text>
</svg>
</body></html>
